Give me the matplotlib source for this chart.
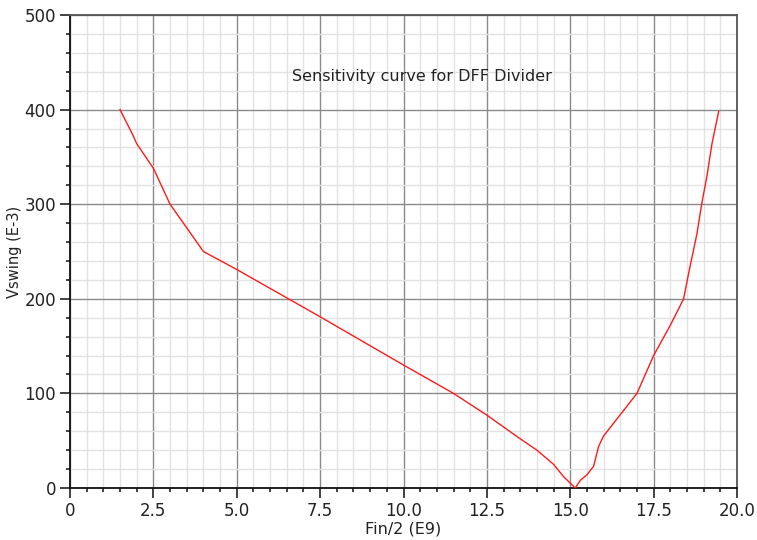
import numpy as np
import matplotlib.pyplot as plt
from matplotlib.ticker import MultipleLocator, FormatStrFormatter, FuncFormatter

# sensitivity curve
fin_half = [1.5, 1.9, 2.0, 2.5, 3.0, 3.5, 4.0, 5.0, 7.5, 10.0, 11.5, 12.5, 13.5,
            14.0, 14.5, 14.8, 15.15, 15.3, 15.5, 15.7, 15.85, 16.0, 17.0, 17.5,
            18.0, 18.4, 18.55, 18.8, 18.95, 19.1, 19.25, 19.45]
vswing = [400, 372, 364, 338, 300, 275, 250, 231, 181, 130, 100, 77, 52,
          40, 25, 12, 0, 8, 14, 23, 44, 55, 100, 140,
          172, 200, 227, 269, 302, 330, 364, 398]

title_text = "Sensitivity curve for DFF Divider"
x_label = "Fin/2 (E9)"
y_label = "Vswing (E-3)"

fig = plt.figure(figsize=(7.57, 5.40), dpi=100)
ax = fig.add_axes([70 / 757, 1 - 488 / 540, 667 / 757, 473 / 540])

ax.plot(fin_half, vswing, color='#ff1a1a', lw=1.0, zorder=3)

ax.set_xlim(0, 20)
ax.set_ylim(0, 500)
ax.xaxis.set_major_locator(MultipleLocator(2.5))
ax.xaxis.set_minor_locator(MultipleLocator(0.5))
ax.yaxis.set_major_locator(MultipleLocator(100))
ax.yaxis.set_minor_locator(MultipleLocator(20))
ax.xaxis.set_major_formatter(FuncFormatter(lambda v, p: '0' if v == 0 else '%.1f' % v))
ax.yaxis.set_major_formatter(FormatStrFormatter('%d'))

ax.grid(which='minor', color='#e2e2e2', lw=1.0, zorder=0)
ax.grid(which='major', color='#8a8a8a', lw=1.0, zorder=1)
ax.set_axisbelow(True)

ax.tick_params(which='major', direction='out', length=7, width=1.2,
               labelsize=12, colors='#222222', pad=3)
ax.tick_params(which='minor', direction='out', length=3, width=1.2, colors='#222222')

for side in ['left', 'bottom']:
    ax.spines[side].set_color('#111111')
    ax.spines[side].set_linewidth(1.3)
for side in ['top', 'right']:
    ax.spines[side].set_color('#555555')
    ax.spines[side].set_linewidth(1.3)

ax.text(0.527, 0.869, title_text, transform=ax.transAxes, ha='center', va='center',
        fontsize=11.5, color='#222222')
ax.set_xlabel(x_label, fontsize=11.5, color='#222222', labelpad=1)
ax.set_ylabel(y_label, fontsize=10.5, color='#222222', labelpad=2)

fig.savefig('out.png', dpi=100)
